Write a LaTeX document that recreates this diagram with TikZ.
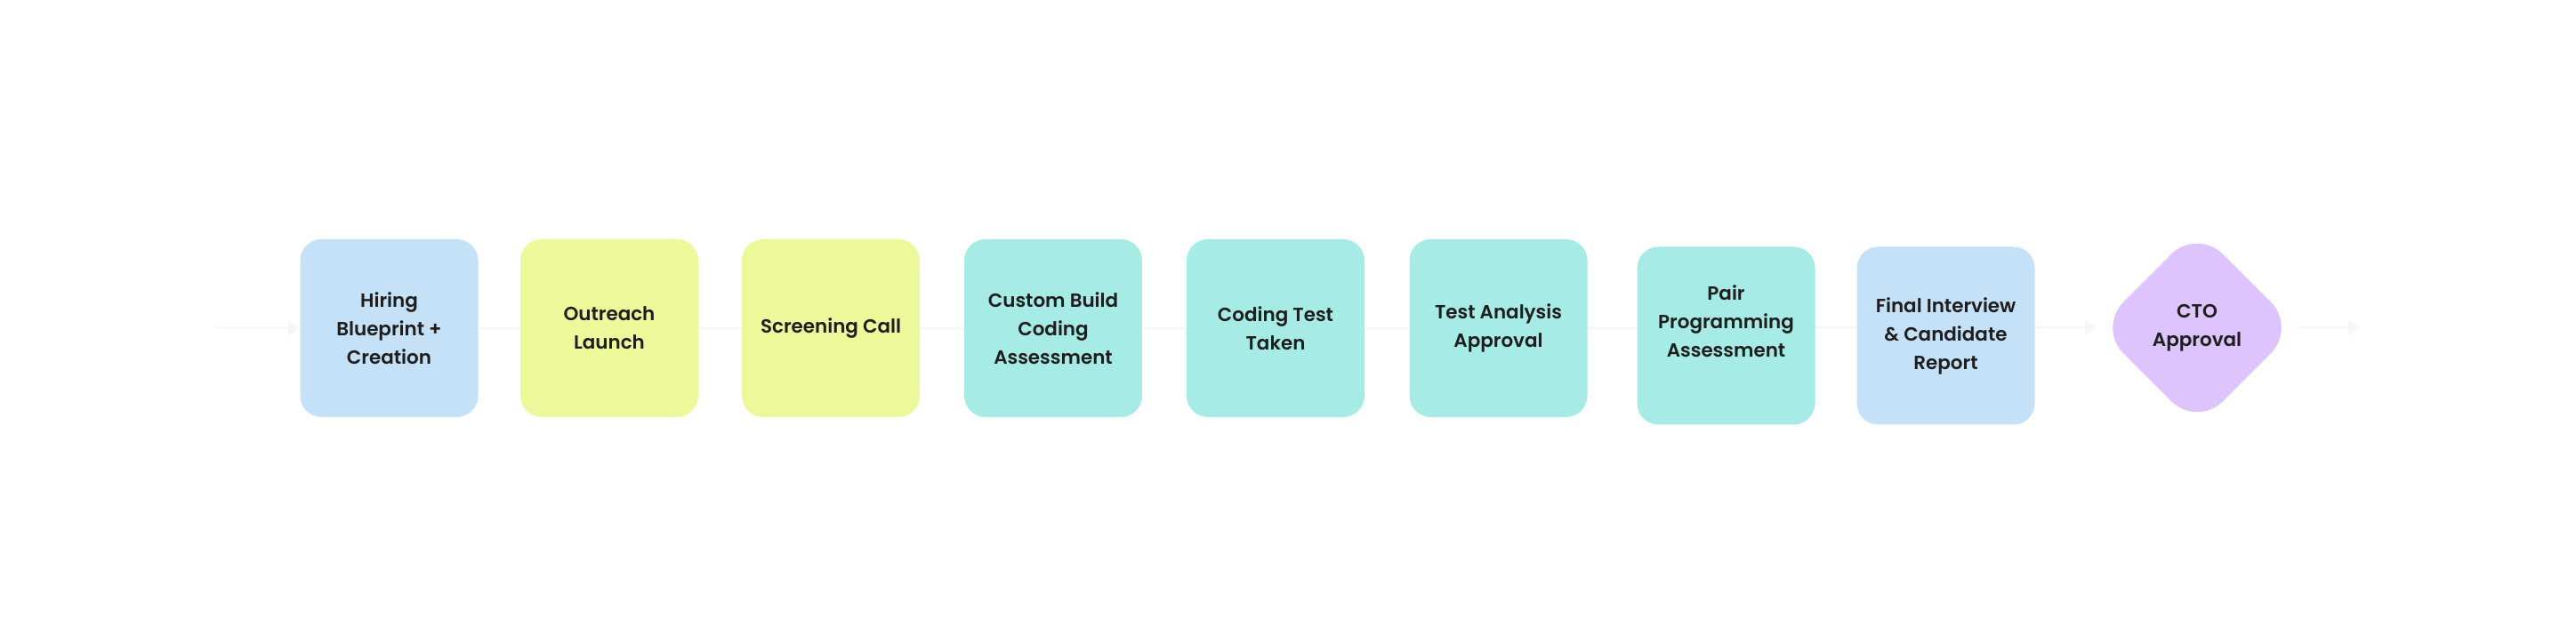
\documentclass[tikz,border=0pt]{standalone}
\usepackage{fontspec}
\setmainfont{Poppins SemiBold}
\usepackage{tikz}
\usetikzlibrary{arrows.meta,positioning,shapes.geometric}

\definecolor{planblue}{RGB}{197,225,247}
\definecolor{limegreen}{RGB}{236,249,155}
\definecolor{aqua}{RGB}{166,235,229}
\definecolor{lilac}{RGB}{222,196,252}
\definecolor{flowgray}{RGB}{246,246,246}
\definecolor{ink}{RGB}{30,30,30}

\begin{document}
\begin{tikzpicture}[
    >={Triangle[length=1.3mm,width=1.7mm]},
    stage/.style={rectangle, rounded corners=2.4mm, fill=#1, minimum width=2cm, minimum height=2cm, inner sep=0pt, align=center, text=ink, font=\fontsize{6.1}{9.1}\selectfont},
    decision/.style={diamond, aspect=1, rounded corners=4.1mm, fill=lilac, minimum size=2.24cm, inner sep=0pt, align=center, text=ink, font=\fontsize{6.1}{9.1}\selectfont},
    link/.style={draw=flowgray, line width=0.2mm},
    flow/.style={link, ->, flowgray}
]
\useasboundingbox (0,0) rectangle (28.96,7.23);

% Etapas
\node[stage=planblue] (blueprint) at (4.375,3.54) {Hiring\\Blueprint +\\Creation};
\node[stage=limegreen] (outreach) at (6.85,3.54) {Outreach\\Launch};
\node[stage=limegreen] (screening) at (9.34,3.54) {Screening Call};
\node[stage=aqua] (custom) at (11.84,3.54) {Custom Build\\Coding\\Assessment};
\node[stage=aqua] (taken) at (14.34,3.54) {Coding Test\\Taken};
\node[stage=aqua] (analysis) at (16.845,3.54) {Test Analysis\\Approval};
\node[stage=aqua] (pair) at (19.405,3.455) {Pair\\Programming\\Assessment\\\mbox{}};
\node[stage=planblue] (final) at (21.875,3.455) {Final Interview\\\& Candidate\\Report};

% Decisao final
\node[decision] (cto) at (24.70,3.545) {CTO\\Approval};

% Extremos do fluxo
\coordinate (start) at (2.42,3.545);
\coordinate (finish) at (26.53,3.545);

% Conectores
\draw[flow] (start) -- (blueprint);
\draw[link] (blueprint) -- (outreach);
\draw[link] (outreach) -- (screening);
\draw[link] (screening) -- (custom);
\draw[link] (custom) -- (taken);
\draw[link] (taken) -- (analysis);
\draw[link] (analysis.east) -- (analysis.east -| pair.west);
\draw[link] (pair.east |- cto) -- (final.west |- cto);
\draw[flow] (final.east |- cto) -- (cto);
\draw[flow] (cto) -- (finish);

\end{tikzpicture}
\end{document}
